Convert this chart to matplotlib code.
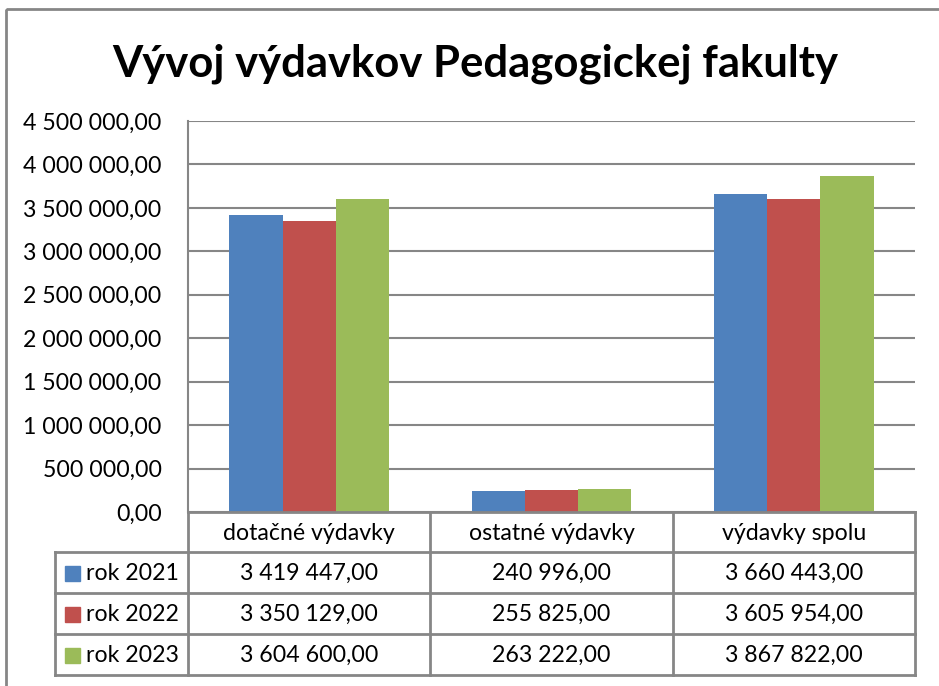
import matplotlib
matplotlib.use("Agg")
import matplotlib.pyplot as plt
from matplotlib.patches import Rectangle
from matplotlib.ticker import FuncFormatter

# data
categories = ["dotačné výdavky", "ostatné výdavky", "výdavky spolu"]
series_names = ["rok 2021", "rok 2022", "rok 2023"]
rok_2021 = [3419447.00, 240996.00, 3660443.00]
rok_2022 = [3350129.00, 255825.00, 3605954.00]
rok_2023 = [3604600.00, 263222.00, 3867822.00]
series = [rok_2021, rok_2022, rok_2023]
colors = ["#4F81BD", "#C0504D", "#9BBB59"]
title = "Vývoj výdavkov Pedagogickej fakulty"


def fmt(v):
    s = f"{v:,.2f}"
    return s.replace(",", " ").replace(".", ",")


plt.rcParams["font.family"] = ["Lato", "DejaVu Sans"]
grid_col = "#868686"

W, H = 939, 686
fig = plt.figure(figsize=(W / 100, H / 100), dpi=100)

# plot area in pixels
x0, x1, y_top, y_bot = 188, 915, 121, 512
ax = fig.add_axes([x0 / W, 1 - y_bot / H, (x1 - x0) / W, (y_bot - y_top) / H])

bw = 0.22
for i, (vals, c) in enumerate(zip(series, colors)):
    xs = [k + (i - 1) * bw for k in range(len(categories))]
    ax.bar(xs, vals, width=bw, color=c, zorder=3)

fs = 16.7
ax.set_xlim(-0.5, len(categories) - 0.5)
ax.set_ylim(0, 4500000)
ax.set_yticks(range(0, 4500001, 500000))
ax.yaxis.set_major_formatter(FuncFormatter(lambda v, p: fmt(v)))
ax.tick_params(axis="y", length=0, pad=19, labelsize=fs)
ax.set_xticks([])
ax.grid(axis="y", color=grid_col, linewidth=1.5, zorder=0)
for s in ["top", "right", "bottom"]:
    ax.spines[s].set_visible(False)
ax.spines["left"].set_color(grid_col)
ax.spines["left"].set_linewidth(1.5)

# overlay for the data table and frame, pixel coordinates
ov = fig.add_axes([0, 0, 1, 1], zorder=5)
ov.set_xlim(0, W)
ov.set_ylim(H, 0)
ov.axis("off")
ov.patch.set_alpha(0)

ov.add_patch(Rectangle((6, 9), 1000, 1000, fill=False, edgecolor=grid_col, linewidth=2))

col_w = (x1 - x0) / len(categories)
col_x = [x0 + k * col_w for k in range(len(categories) + 1)]
row_h = 41
header_bot = y_bot + 40
rows_y = [header_bot + r * row_h for r in range(len(series) + 1)]
lab_x = 55

lw = 2
ov.plot([x0, x1], [y_bot, y_bot], color=grid_col, lw=lw)
for y in rows_y:
    ov.plot([lab_x, x1], [y, y], color=grid_col, lw=lw)
for x in col_x:
    ov.plot([x, x], [y_bot, rows_y[-1]], color=grid_col, lw=lw)
ov.plot([lab_x, lab_x], [header_bot, rows_y[-1]], color=grid_col, lw=lw)

for k, cat in enumerate(categories):
    ov.text((col_x[k] + col_x[k + 1]) / 2, (y_bot + header_bot) / 2 + 1, cat,
            ha="center", va="center", fontsize=fs)

for r, (name, vals, c) in enumerate(zip(series_names, series, colors)):
    yc = rows_y[r] + row_h / 2 + 1
    ov.add_patch(Rectangle((65, yc - 8), 15, 15, color=c))
    ov.text(86, yc, name, ha="left", va="center", fontsize=fs)
    for k, v in enumerate(vals):
        ov.text((col_x[k] + col_x[k + 1]) / 2, yc, fmt(v),
                ha="center", va="center", fontsize=fs)

fig.text(475 / W, 1 - 64 / H, title, ha="center", va="center",
         fontsize=31.4, fontweight="bold")

fig.savefig("out.png", dpi=100)
